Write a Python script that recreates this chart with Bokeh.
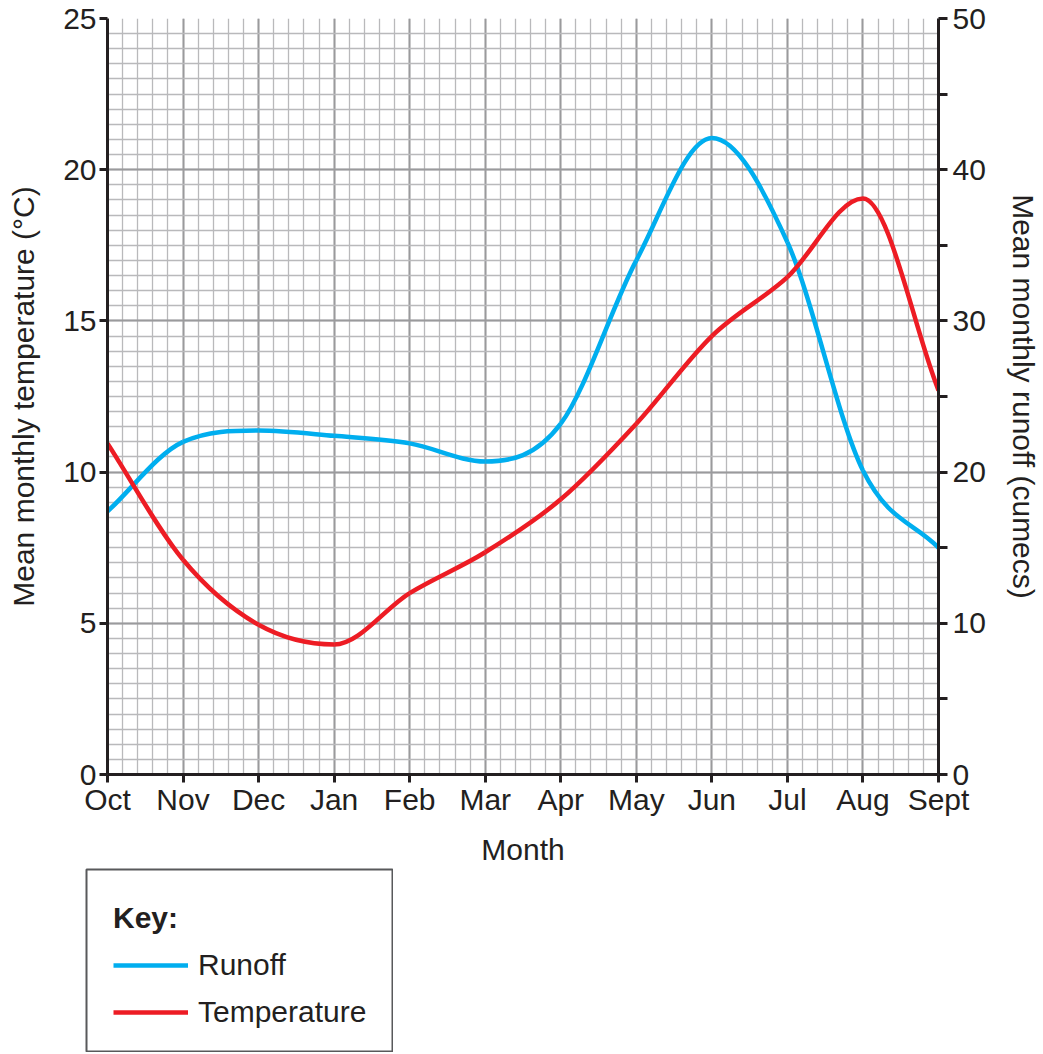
import numpy as np
from bokeh.plotting import figure
from bokeh.layouts import column, row
from bokeh.models import Range1d, LinearAxis, FixedTicker, Legend, LegendItem, Spacer
from bokeh.embed import file_html
from bokeh.resources import INLINE

# ---------------- data ----------------
months = ["Oct", "Nov", "Dec", "Jan", "Feb", "Mar", "Apr", "May", "Jun", "Jul", "Aug", "Sept"]
temperature = [10.95, 7.1, 4.95, 4.3, 6.0, 7.35, 9.1, 11.6, 14.5, 16.45, 19.05, 12.7]   # deg C (left axis)
runoff = [17.4, 22.0, 22.75, 22.4, 21.9, 20.7, 23.2, 34.0, 42.1, 35.2, 20.1, 15.0]      # cumecs (right axis)
temp_ticks = [0, 5, 10, 15, 20, 25]
runoff_ticks = [0, 5, 10, 15, 20, 25, 30, 35, 40, 45, 50]
runoff_labelled = [0, 10, 20, 30, 40, 50]
series_names = ["Runoff", "Temperature"]

FONT = "Liberation Sans"
FS = "30px"
TXT = "#231f20"
BLUE = "#00aeef"
RED = "#ed1c24"


def smooth_segments(xs, ys):
    """Monotone cubic (Fritsch-Carlson) tangents -> Bezier control points through the data points."""
    xs = np.asarray(xs, float)
    ys = np.asarray(ys, float)
    h = np.diff(xs)
    d = np.diff(ys) / h
    n = len(xs)
    m = np.zeros(n)
    m[0], m[-1] = d[0], d[-1]
    for i in range(1, n - 1):
        if d[i - 1] * d[i] <= 0:
            m[i] = 0.0
        else:
            m[i] = 0.5 * (d[i - 1] + d[i])
    for i in range(n - 1):
        if d[i] == 0:
            m[i] = m[i + 1] = 0.0
            continue
        a, b = m[i] / d[i], m[i + 1] / d[i]
        s = a * a + b * b
        if s > 9:
            t = 3 / np.sqrt(s)
            m[i], m[i + 1] = t * a * d[i], t * b * d[i]
    return dict(
        x0=xs[:-1], y0=ys[:-1], x1=xs[1:], y1=ys[1:],
        cx0=xs[:-1] + h / 3, cy0=ys[:-1] + m[:-1] * h / 3,
        cx1=xs[1:] - h / 3, cy1=ys[1:] - m[1:] * h / 3,
    )


xpos = list(range(len(months)))

p = figure(
    width=1043, height=868,
    x_range=Range1d(0, len(months) - 1), y_range=Range1d(0, 25),
    output_backend="svg", toolbar_location=None,
    min_border_left=107, min_border_right=105, min_border_top=18, min_border_bottom=94,
    background_fill_color="white", border_fill_color="white",
)
p.outline_line_color = None
p.extra_y_ranges = {"runoff": Range1d(0, 50)}

# grids
p.xgrid.ticker = FixedTicker(ticks=xpos, minor_ticks=[i / 5 for i in range(5 * (len(months) - 1) + 1)])
p.ygrid.ticker = FixedTicker(ticks=temp_ticks, minor_ticks=[i / 2 for i in range(51)])
for g in (p.xgrid, p.ygrid):
    g.grid_line_color = "#9a9a9c"
    g.grid_line_width = 2
    g.minor_grid_line_color = "#b9b9bb"
    g.minor_grid_line_width = 1.3

# axes
def style_axis(ax):
    ax.axis_line_color = TXT
    ax.axis_line_width = 3
    ax.major_tick_line_color = TXT
    ax.major_tick_line_width = 3
    ax.major_tick_in = 0
    ax.major_tick_out = 8
    ax.minor_tick_line_color = None
    ax.major_label_text_font = FONT
    ax.major_label_text_font_size = FS
    ax.major_label_text_color = TXT
    ax.axis_label_text_font = FONT
    ax.axis_label_text_font_size = FS
    ax.axis_label_text_font_style = "normal"
    ax.axis_label_text_color = TXT

xa = p.xaxis[0]
xa.ticker = FixedTicker(ticks=xpos)
xa.major_label_overrides = {i: m for i, m in enumerate(months)}
xa.axis_label = "Month"
style_axis(xa)
xa.major_label_standoff = 0
xa.axis_label_standoff = 14

ya = p.yaxis[0]
ya.ticker = FixedTicker(ticks=temp_ticks)
ya.axis_label = "Mean monthly temperature (°C)"
style_axis(ya)
ya.major_label_standoff = 3
ya.axis_label_standoff = 20

ra = LinearAxis(y_range_name="runoff", ticker=FixedTicker(ticks=runoff_ticks),
                axis_label="Mean monthly runoff (cumecs)")
ra.major_label_overrides = {t: ("" if t not in runoff_labelled else str(t)) for t in runoff_ticks}
style_axis(ra)
ra.major_tick_out = 9
ra.major_label_standoff = 5
ra.axis_label_standoff = 18
p.add_layout(ra, "right")

# series
p.bezier(**smooth_segments(xpos, runoff), line_color=BLUE, line_width=4.5, y_range_name="runoff")
p.bezier(**smooth_segments(xpos, temperature), line_color=RED, line_width=4.5)

# ---------------- key (separate boxed panel under the chart) ----------------
# The key panel's ranges lie outside the data, so the series lines that feed the
# legend swatches are not visible inside the key box; only the legend is shown.
key = figure(
    width=308, height=184, x_range=Range1d(-20, -19), y_range=Range1d(-20, -19),
    x_axis_type=None, y_axis_type=None,
    output_backend="svg", toolbar_location=None,
    min_border=1, background_fill_color="white", border_fill_color="white",
)
key.grid.visible = False
key.outline_line_color = "#58595b"
key.outline_line_width = 2
k_run = key.line(x=xpos, y=runoff, line_color=BLUE, line_width=4.5)
k_tmp = key.line(x=xpos, y=temperature, line_color=RED, line_width=4.5)

legend = Legend(
    items=[LegendItem(label=series_names[0], renderers=[k_run]),
           LegendItem(label=series_names[1], renderers=[k_tmp])],
    title="Key:",
    location=(27, 21),
    orientation="vertical",
)
legend.title_text_font = FONT
legend.title_text_font_size = FS
legend.title_text_font_style = "bold"
legend.title_text_color = TXT
legend.title_standoff = 12
legend.label_text_font = FONT
legend.label_text_font_size = FS
legend.label_text_color = TXT
legend.glyph_width = 75
legend.glyph_height = 36
legend.label_height = 36
legend.label_standoff = 10
legend.spacing = 11
legend.padding = 0
legend.margin = 0
legend.border_line_color = None
legend.background_fill_alpha = 0
key.add_layout(legend)

layout = column(p, row(Spacer(width=85, height=184), key))
open("out.html", "w").write(file_html(layout, INLINE))
